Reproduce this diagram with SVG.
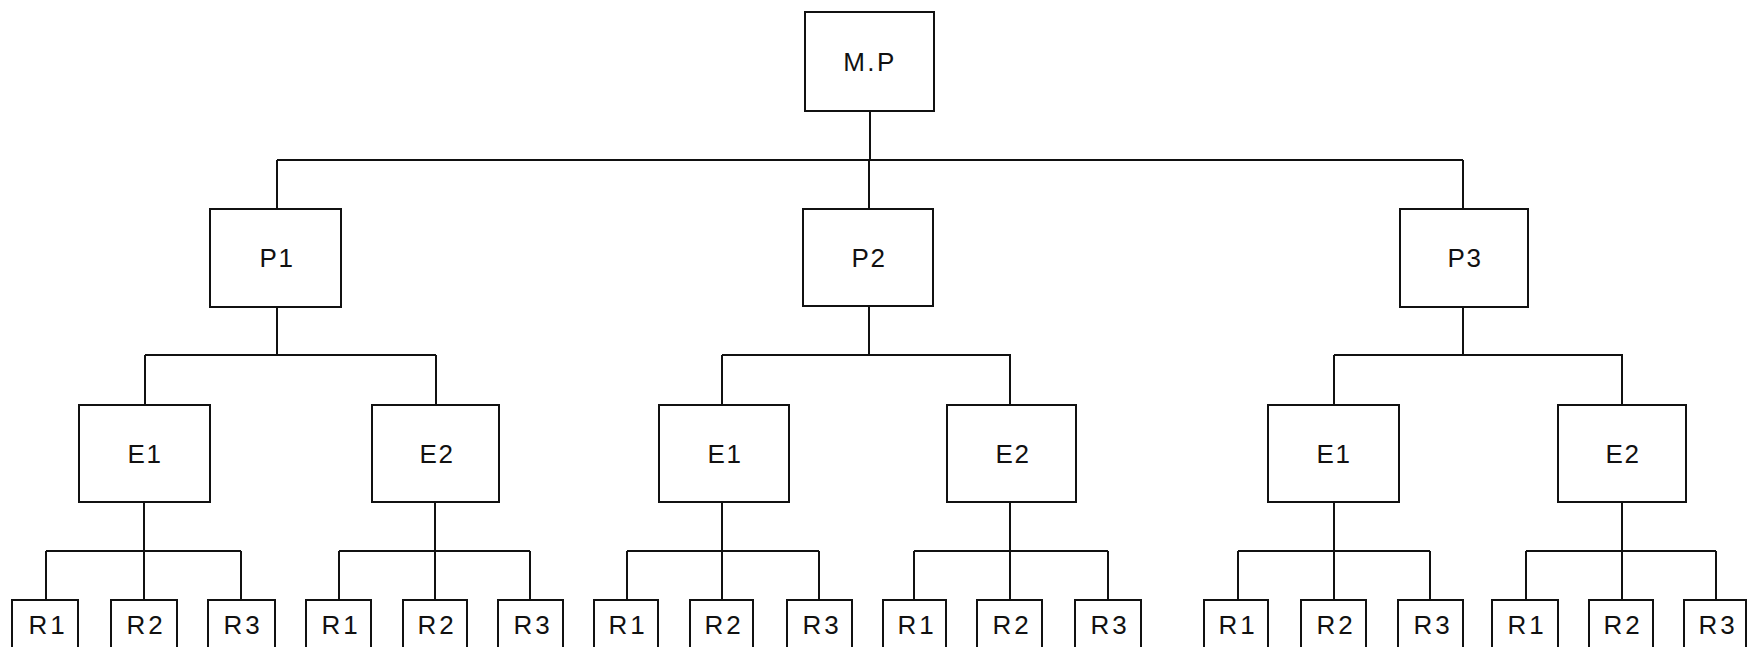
<svg xmlns="http://www.w3.org/2000/svg" width="1748" height="647" viewBox="0 0 1748 647">
<style>
rect{fill:#fff;stroke:#111;stroke-width:2}
text{font-family:"Liberation Sans",Arial,sans-serif;font-size:26px;fill:#111;text-anchor:middle}
.t{letter-spacing:1.5px}
.r{letter-spacing:3px}
#connectors path{fill:none;stroke:#111;stroke-width:2}
</style>
<rect x="0" y="0" width="1748" height="647" style="stroke:none"/>
<g id="connectors">
<path d="M870 111V160M277 160H1463M277 160V209M869 160V209M1463 160V209"/>
<path d="M277 307V355M145 355H436M145 355V405M436 355V405"/>
<path d="M869 306V355M722 355H1011M722 355V405M1010 355V405"/>
<path d="M1463 307V355M1334 355H1623M1334 355V405M1622 355V405"/>
<path d="M144 502V551M46 551H241M46 551V600M144 551V600M241 551V600"/>
<path d="M435 502V551M339 551H530M339 551V600M435 551V600M530 551V600"/>
<path d="M722 502V551M627 551H819M627 551V600M722 551V600M819 551V600"/>
<path d="M1010 502V551M914 551H1108M914 551V600M1010 551V600M1108 551V600"/>
<path d="M1334 502V551M1238 551H1430M1238 551V600M1334 551V600M1430 551V600"/>
<path d="M1622 502V551M1526 551H1716M1526 551V600M1622 551V600M1716 551V600"/>
</g>
<g id="mp"><rect x="805" y="12" width="129" height="99"/><text x="870" y="71" style="letter-spacing:2.5px">M.P</text></g>
<g id="p1"><rect x="210" y="209" width="131" height="98"/><text class="t" x="277" y="267">P1</text></g>
<g id="p2"><rect x="803" y="209" width="130" height="97"/><text class="t" x="869" y="267">P2</text></g>
<g id="p3"><rect x="1400" y="209" width="128" height="98"/><text class="t" x="1465" y="267">P3</text></g>
<g id="p1-e1"><rect x="79" y="405" width="131" height="97"/><text class="t" x="145" y="463">E1</text></g>
<g id="p1-e2"><rect x="372" y="405" width="127" height="97"/><text class="t" x="437" y="463">E2</text></g>
<g id="p2-e1"><rect x="659" y="405" width="130" height="97"/><text class="t" x="725" y="463">E1</text></g>
<g id="p2-e2"><rect x="947" y="405" width="129" height="97"/><text class="t" x="1013" y="463">E2</text></g>
<g id="p3-e1"><rect x="1268" y="405" width="131" height="97"/><text class="t" x="1334" y="463">E1</text></g>
<g id="p3-e2"><rect x="1558" y="405" width="128" height="97"/><text class="t" x="1623" y="463">E2</text></g>
<g id="r-a1"><rect x="12" y="600" width="66" height="60"/><text class="r" x="48" y="634">R1</text></g>
<g id="r-a2"><rect x="111" y="600" width="66" height="60"/><text class="r" x="146" y="634">R2</text></g>
<g id="r-a3"><rect x="208" y="600" width="67" height="60"/><text class="r" x="243" y="634">R3</text></g>
<g id="r-b1"><rect x="306" y="600" width="65" height="60"/><text class="r" x="341" y="634">R1</text></g>
<g id="r-b2"><rect x="403" y="600" width="64" height="60"/><text class="r" x="437" y="634">R2</text></g>
<g id="r-b3"><rect x="498" y="600" width="65" height="60"/><text class="r" x="533" y="634">R3</text></g>
<g id="r-c1"><rect x="594" y="600" width="64" height="60"/><text class="r" x="628" y="634">R1</text></g>
<g id="r-c2"><rect x="690" y="600" width="63" height="60"/><text class="r" x="724" y="634">R2</text></g>
<g id="r-c3"><rect x="787" y="600" width="65" height="60"/><text class="r" x="822" y="634">R3</text></g>
<g id="r-d1"><rect x="883" y="600" width="63" height="60"/><text class="r" x="917" y="634">R1</text></g>
<g id="r-d2"><rect x="977" y="600" width="65" height="60"/><text class="r" x="1012" y="634">R2</text></g>
<g id="r-d3"><rect x="1075" y="600" width="66" height="60"/><text class="r" x="1110" y="634">R3</text></g>
<g id="r-e1"><rect x="1204" y="600" width="64" height="60"/><text class="r" x="1238" y="634">R1</text></g>
<g id="r-e2"><rect x="1301" y="600" width="65" height="60"/><text class="r" x="1336" y="634">R2</text></g>
<g id="r-e3"><rect x="1398" y="600" width="65" height="60"/><text class="r" x="1433" y="634">R3</text></g>
<g id="r-f1"><rect x="1492" y="600" width="66" height="60"/><text class="r" x="1527" y="634">R1</text></g>
<g id="r-f2"><rect x="1589" y="600" width="64" height="60"/><text class="r" x="1623" y="634">R2</text></g>
<g id="r-f3"><rect x="1684" y="600" width="62" height="60"/><text class="r" x="1718" y="634">R3</text></g>
</svg>
